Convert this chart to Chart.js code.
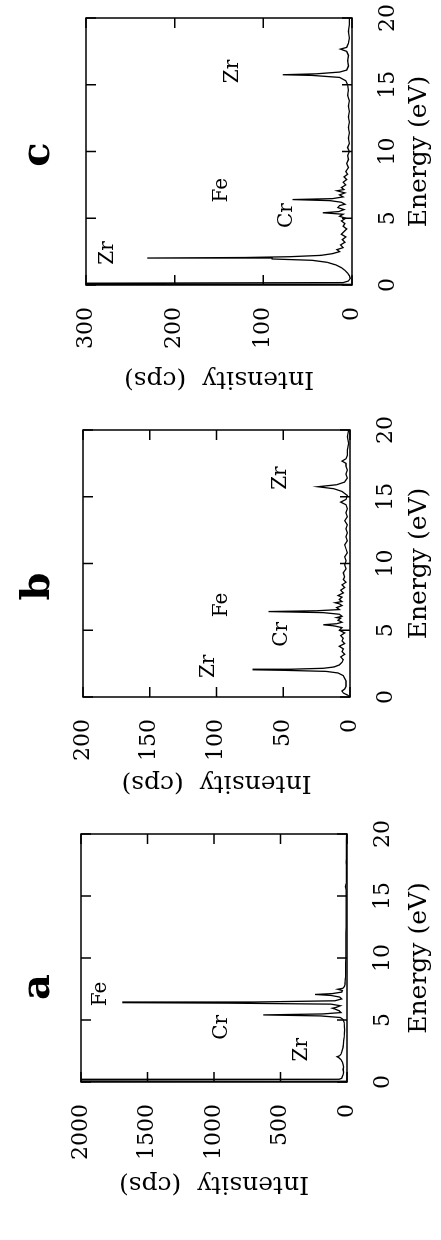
<!DOCTYPE html>
<html>
<head>
<meta charset="utf-8">
<script src="https://cdn.jsdelivr.net/npm/chart.js@4.4.0/dist/chart.umd.min.js"></script>
<style>
  html, body { margin: 0; padding: 0; background: #fff; }
  body { width: 441px; height: 1240px; overflow: hidden; position: relative; }
  /* the figure is laid out landscape, then turned a quarter turn anticlockwise */
  #sheet { position: absolute; left: 0; top: 1240px; width: 1240px; height: 441px;
           transform-origin: 0 0; transform: rotate(-90deg); }
  #sheet canvas { position: absolute; top: 0; }
</style>
</head>
<body>
<div id="sheet">
  <canvas id="panelA" width="425" height="441" style="left:0"></canvas>
  <canvas id="panelB" width="405" height="441" style="left:425px"></canvas>
  <canvas id="panelC" width="410" height="441" style="left:830px"></canvas>
</div>
<script>
/* ===================== DATA ===================== */
const energyTicks = [0, 5, 10, 15, 20];

// panel a
const energyA = [0.00, 0.06, 0.10, 0.18, 0.22, 0.30, 0.45, 0.60, 0.80, 1.00,
                 1.20, 1.40, 1.60, 1.80, 1.95, 2.04, 2.12, 2.25, 2.40, 2.60,
                 2.80, 3.00, 3.30, 3.60, 3.90, 4.20, 4.50, 4.80, 5.05, 5.20,
                 5.33, 5.41, 5.49, 5.60, 5.75, 5.88, 5.95, 6.02, 6.15, 6.28,
                 6.36, 6.40, 6.45, 6.55, 6.70, 6.85, 6.98, 7.06, 7.13, 7.25,
                 7.38, 7.48, 7.56, 7.70, 7.90, 8.10, 8.40, 8.80, 9.20, 9.60,
                 10.0, 10.5, 11.0, 11.5, 12.0, 12.5, 13.0, 13.5, 14.0, 14.5,
                 15.0, 15.5, 15.75, 16.0, 16.5, 17.0, 17.5, 17.7, 18.0, 18.5,
                 19.0, 19.5, 20.0];
const countsA = [0, 2400, 2400, 2400, 60, 40, 35, 30, 25, 30,
                 25, 30, 35, 45, 60, 75, 55, 45, 40, 35,
                 30, 28, 25, 22, 20, 18, 20, 22, 30, 50,
                 200, 630, 180, 45, 60, 90, 110, 80, 50, 120,
                 900, 1690, 700, 90, 40, 55, 120, 240, 110, 40,
                 35, 70, 30, 20, 15, 14, 12, 11, 10, 10,
                 9, 9, 8, 8, 8, 7, 7, 7, 7, 6,
                 6, 7, 12, 6, 5, 5, 5, 6, 5, 4,
                 4, 4, 3];
const intensityTicksA = [0, 500, 1000, 1500, 2000];
const peakNamesA = ['Fe', 'Cr', 'Zr'];
const peakEnergyA = [7.1, 4.4, 2.6];
const peakCountsA = [1850, 940, 340];

// panel b
const energyB = [0.00, 0.15, 0.30, 0.45, 0.60, 0.80, 1.00, 1.20, 1.40, 1.60,
                 1.80, 1.92, 2.00, 2.04, 2.08, 2.15, 2.25, 2.40, 2.60, 2.80,
                 3.00, 3.20, 3.40, 3.60, 3.80, 4.00, 4.20, 4.40, 4.60, 4.80,
                 5.00, 5.20, 5.33, 5.41, 5.49, 5.60, 5.75, 5.90, 5.95, 6.05,
                 6.20, 6.32, 6.40, 6.46, 6.55, 6.70, 6.85, 6.98, 7.06, 7.15,
                 7.30, 7.48, 7.60, 7.80, 8.00, 8.20, 8.40, 8.60, 8.80, 9.00,
                 9.30, 9.60, 9.90, 10.2, 10.5, 10.8, 11.1, 11.4, 11.7, 12.0,
                 12.3, 12.6, 12.9, 13.2, 13.5, 13.8, 14.1, 14.4, 14.6, 14.8,
                 15.1, 15.4, 15.6, 15.75, 15.9, 16.1, 16.4, 16.7, 17.0, 17.3,
                 17.5, 17.67, 17.85, 18.1, 18.5, 19.0, 19.5, 20.0];
const countsB = [0, 2, 5, 6, 4, 3, 3, 3, 4, 5,
                 9, 18, 50, 73, 45, 20, 12, 8, 6, 5,
                 7, 4, 6, 5, 8, 4, 6, 5, 7, 4,
                 8, 6, 12, 20, 10, 6, 9, 7, 10, 6,
                 8, 20, 61, 25, 8, 10, 6, 8, 11, 6,
                 8, 6, 9, 5, 7, 4, 6, 3, 5, 4,
                 5, 3, 4, 3, 4, 2, 3, 4, 2, 3,
                 2, 3, 2, 4, 2, 3, 2, 3, 7, 3,
                 2, 6, 12, 24, 10, 4, 2, 3, 2, 3,
                 3, 6, 3, 2, 2, 1, 2, 1];
const intensityTicksB = [0, 50, 100, 150, 200];
const peakNamesB = ['Zr', 'Cr', 'Fe', 'Zr'];
const peakEnergyB = [2.3, 4.7, 6.9, 16.4];
const peakCountsB = [106, 51, 96, 52];

// panel c
const energyC = [0.00, 0.05, 0.12, 0.18, 0.30, 0.50, 0.70, 0.90, 1.10, 1.30,
                 1.50, 1.70, 1.85, 1.95, 2.02, 2.06, 2.12, 2.22, 2.35, 2.50,
                 2.65, 2.80, 3.00, 3.20, 3.40, 3.60, 3.80, 4.00, 4.20, 4.40,
                 4.60, 4.80, 5.00, 5.15, 5.30, 5.41, 5.50, 5.65, 5.80, 5.95,
                 6.05, 6.20, 6.32, 6.40, 6.47, 6.60, 6.75, 6.90, 7.06, 7.15,
                 7.30, 7.50, 7.70, 7.90, 8.10, 8.30, 8.50, 8.80, 9.10, 9.40,
                 9.70, 10.0, 10.3, 10.6, 11.0, 11.4, 11.8, 12.2, 12.6, 13.0,
                 13.4, 13.8, 14.2, 14.6, 15.0, 15.3, 15.55, 15.70, 15.75, 15.82,
                 15.95, 16.1, 16.4, 16.8, 17.2, 17.5, 17.67, 17.8, 18.1, 18.5,
                 19.0, 19.5, 20.0];
const countsC = [0, 400, 400, 10, 4, 2, 3, 5, 8, 12,
                 18, 28, 45, 90, 231, 120, 70, 35, 22, 14,
                 17, 10, 13, 8, 11, 7, 12, 9, 6, 10,
                 8, 12, 7, 14, 10, 33, 15, 9, 16, 14,
                 8, 12, 25, 67, 22, 10, 14, 8, 17, 9,
                 12, 7, 10, 6, 9, 5, 7, 4, 6, 4,
                 5, 3, 5, 3, 4, 3, 4, 3, 4, 3,
                 4, 3, 5, 4, 5, 7, 14, 45, 78, 40,
                 14, 6, 4, 5, 4, 6, 13, 6, 4, 3,
                 4, 3, 3];
const intensityTicksC = [0, 100, 200, 300];
const peakNamesC = ['Zr', 'Fe', 'Cr', 'Zr'];
const peakEnergyC = [2.4, 7.1, 5.2, 16.0];
const peakCountsC = [275, 147, 73, 135];

/* ===================== HELPERS ===================== */
const SERIF = '"DejaVu Serif", serif';

// closed box with short inward ticks on all four sides
const framePlugin = {
    id: 'frame',
    afterDatasetsDraw(chart) {
        const { ctx, chartArea: a, scales: { x, y } } = chart;
        const len = 10;
        ctx.save();
        ctx.strokeStyle = '#000';
        ctx.lineWidth = 1.5;
        ctx.strokeRect(a.left, a.top, a.right - a.left, a.bottom - a.top);
        ctx.beginPath();
        x.ticks.forEach(t => {
            const px = x.getPixelForValue(t.value);
            ctx.moveTo(px, a.bottom); ctx.lineTo(px, a.bottom - len);
            ctx.moveTo(px, a.top);    ctx.lineTo(px, a.top + len);
        });
        y.ticks.forEach(t => {
            const py = y.getPixelForValue(t.value);
            ctx.moveTo(a.left, py);  ctx.lineTo(a.left + len, py);
            ctx.moveTo(a.right, py); ctx.lineTo(a.right - len, py);
        });
        ctx.stroke();
        ctx.restore();
    }
};

// element names at data positions + the bold panel letter
function annotate(names, energy, counts, letter, letterShift) {
    return {
        id: 'annotate',
        afterDatasetsDraw(chart) {
            const { ctx, chartArea: a, scales: { x, y } } = chart;
            ctx.save();
            ctx.fillStyle = '#000';
            ctx.textAlign = 'center';
            ctx.textBaseline = 'middle';
            ctx.font = '20px ' + SERIF;
            names.forEach((n, i) => {
                ctx.fillText(n, x.getPixelForValue(energy[i]), y.getPixelForValue(counts[i]));
            });
            ctx.font = 'bold 40px ' + SERIF;
            ctx.textBaseline = 'alphabetic';
            ctx.fillText(letter, (a.left + a.right) / 2 + letterShift, 49);
            ctx.restore();
        }
    };
}

function drawPanel(id, energy, counts, yTicks, peaks, layout) {
    const yMax = yTicks[yTicks.length - 1];
    new Chart(document.getElementById(id), {
        type: 'line',
        data: {
            datasets: [{
                data: energy.map((e, i) => ({ x: e, y: counts[i] })),
                borderColor: '#000',
                borderWidth: 1.3,
                pointRadius: 0,
                tension: 0,
                fill: false
            }]
        },
        options: {
            responsive: false,
            animation: false,
            events: [],
            layout: { padding: layout.pad },
            plugins: { legend: { display: false }, tooltip: { enabled: false } },
            scales: {
                x: {
                    type: 'linear', min: energyTicks[0], max: energyTicks[energyTicks.length - 1],
                    // fixed box; end labels may hang into the side padding
                    afterFit: s => { s.height = layout.xHeight; s.paddingLeft = 0; s.paddingRight = 0; },
                    afterBuildTicks: s => { s.ticks = energyTicks.map(v => ({ value: v })); },
                    grid: { display: false }, border: { display: false },
                    ticks: { color: '#000', font: { family: SERIF, size: 22 }, padding: 15,
                             maxRotation: 0, callback: v => `${v}` },
                    title: { display: true, text: 'Energy (eV)', color: '#000',
                             font: { family: SERIF, size: 25 }, padding: { top: 0, bottom: 7 } }
                },
                y: {
                    type: 'linear', min: 0, max: yMax,
                    afterFit: s => { s.width = layout.yWidth; s.paddingTop = 0; s.paddingBottom = 0; },
                    afterBuildTicks: s => { s.ticks = yTicks.map(v => ({ value: v })); },
                    grid: { display: false }, border: { display: false },
                    ticks: { color: '#000', font: { family: SERIF, size: 22 }, padding: 14,
                             callback: v => `${v}` },
                    title: { display: true, text: 'Intensity  (cps)', color: '#000',
                             font: { family: SERIF, size: 25 }, padding: { top: layout.titlePad, bottom: 0 } }
                }
            }
        },
        plugins: [framePlugin, annotate(peaks.names, peaks.energy, peaks.counts, layout.letter, layout.letterShift)]
    });
}

/* ===================== PANELS ===================== */
drawPanel('panelA', energyA, countsA, intensityTicksA,
    { names: peakNamesA, energy: peakEnergyA, counts: peakCountsA },
    { pad: { left: 20, right: 19, top: 81, bottom: 0 }, xHeight: 94, yWidth: 138, titlePad: 21, letter: 'a', letterShift: -29 });

drawPanel('panelB', energyB, countsB, intensityTicksB,
    { names: peakNamesB, energy: peakEnergyB, counts: peakCountsB },
    { pad: { left: 10, right: 20, top: 83, bottom: 0 }, xHeight: 91, yWidth: 108, titlePad: 7, letter: 'b', letterShift: -23 });

drawPanel('panelC', energyC, countsC, intensityTicksC,
    { names: peakNamesC, energy: peakEnergyC, counts: peakCountsC },
    { pad: { left: 5, right: 18, top: 86, bottom: 0 }, xHeight: 89, yWidth: 120, titlePad: 11, letter: 'c', letterShift: -3 });
</script>
</body>
</html>
